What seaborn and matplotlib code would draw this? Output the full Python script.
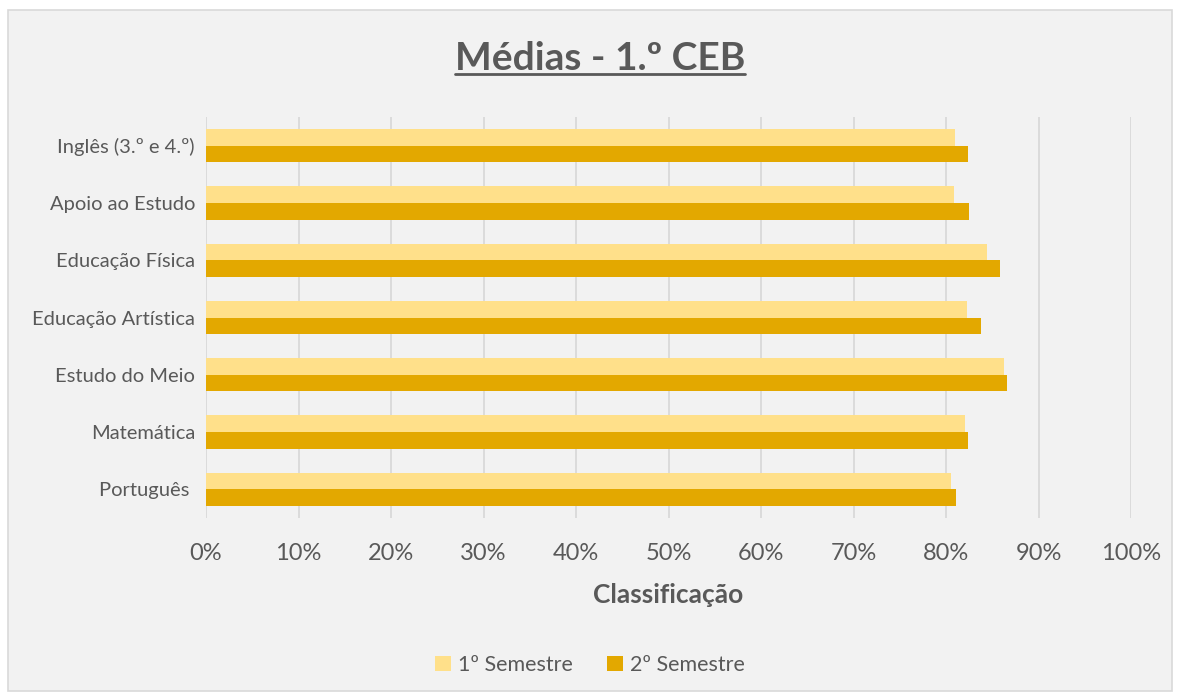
import seaborn as sns
import matplotlib.pyplot as plt
from matplotlib.patches import Rectangle
from matplotlib.lines import Line2D
from matplotlib.ticker import PercentFormatter
import pandas as pd

disciplinas = ["Inglês (3.º e 4.º)", "Apoio ao Estudo", "Educação Física",
               "Educação Artística", "Estudo do Meio", "Matemática", "Português "]
sem1 = [0.810, 0.809, 0.844, 0.823, 0.863, 0.820, 0.805]
sem2 = [0.824, 0.825, 0.858, 0.838, 0.866, 0.824, 0.811]
series = ["1º Semestre", "2º Semestre"]
cores = ["#FFE08A", "#E3A800"]

df = pd.DataFrame({
    "disciplina": disciplinas * 2,
    "valor": sem1 + sem2,
    "semestre": [series[0]] * len(disciplinas) + [series[1]] * len(disciplinas),
})

sns.set_style("white")
plt.rcParams["font.family"] = ["Lato", "DejaVu Sans"]
grey = "#595959"

fig = plt.figure(figsize=(11.8, 6.97), dpi=100, facecolor="white")
fig.patches.append(Rectangle((8 / 1180, 6 / 697), 1164 / 1180, 681 / 697,
                             transform=fig.transFigure, facecolor="#F2F2F2",
                             edgecolor="#D9D9D9", linewidth=1.2, zorder=-10))
ax = fig.add_axes([206 / 1180, 1 - 518 / 697, 925 / 1180, 401 / 697])
ax.set_facecolor("none")

sns.barplot(data=df, y="disciplina", x="valor", hue="semestre", hue_order=series,
            palette=cores, width=0.58, orient="h", ax=ax, saturation=1, linewidth=0)

ax.set_xlim(0, 1)
ax.set_xticks([i / 10 for i in range(11)])
ax.xaxis.set_major_formatter(PercentFormatter(1.0, decimals=0))
ax.grid(axis="x", color="#D9D9D9", linewidth=1.3)
ax.set_axisbelow(True)
for s in ax.spines.values():
    s.set_visible(False)
ax.tick_params(axis="x", labelsize=17, labelcolor=grey, length=0, pad=18)
ax.tick_params(axis="y", labelsize=14.5, labelcolor=grey, length=0, pad=8)
ax.set_ylabel("")
ax.set_xlabel("Classificação", fontsize=19, fontweight="bold", color=grey, labelpad=14)

leg = ax.legend(loc="center", bbox_to_anchor=(0.5, 1 - 665 / 697),
                bbox_transform=fig.transFigure, ncol=2, frameon=False,
                fontsize=15.5, handlelength=0.75, handleheight=0.75,
                handletextpad=0.3, columnspacing=1.6)
for t in leg.get_texts():
    t.set_color(grey)

title = fig.text(600 / 1180, 1 - 58 / 697, "Médias - 1.º CEB", ha="center", va="center",
                 fontsize=28, fontweight="bold", color=grey)
fig.canvas.draw()
bb = title.get_window_extent().transformed(fig.transFigure.inverted())
fig.lines.append(Line2D([bb.x0, bb.x1], [bb.y0 + 0.002, bb.y0 + 0.002],
                        transform=fig.transFigure, color=grey, linewidth=2))

fig.savefig("out.png", dpi=100, facecolor=fig.get_facecolor())
